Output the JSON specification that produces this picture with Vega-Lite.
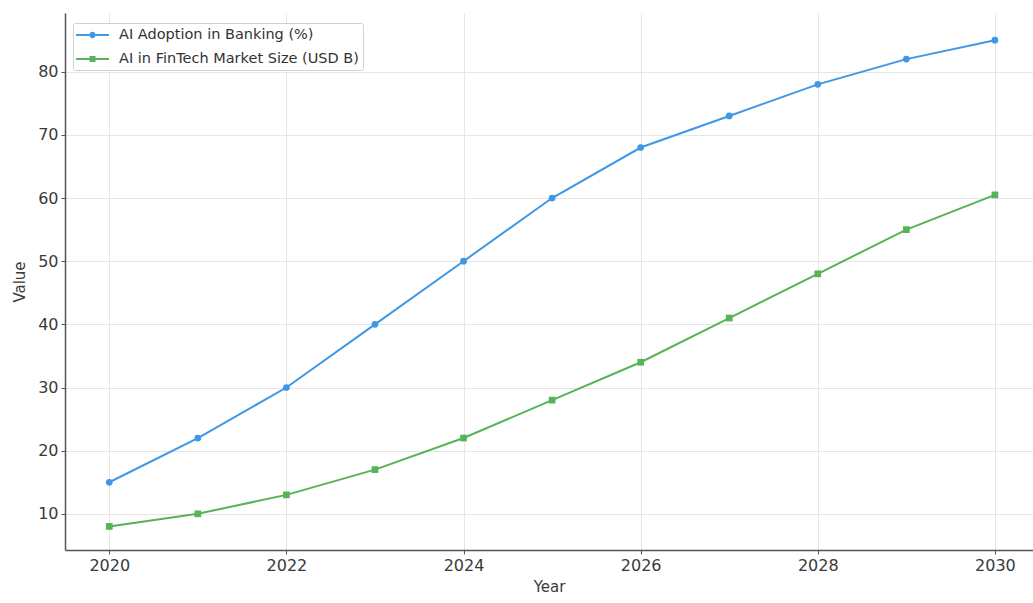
{
  "$schema": "https://vega.github.io/schema/vega-lite/v6.json",
  "width": 968,
  "height": 537,
  "autosize": {"type": "none"},
  "padding": {"left": 65, "top": 13, "right": 0, "bottom": 53},
  "background": "white",
  "config": {
    "view": {"stroke": null},
    "font": "DejaVu Sans",
    "axis": {
      "labelFont": "DejaVu Sans",
      "titleFont": "DejaVu Sans",
      "labelFontSize": 16,
      "titleFontSize": 15,
      "titleFontWeight": "normal",
      "labelColor": "#3a3a3a",
      "titleColor": "#3a3a3a",
      "domainColor": "#555555",
      "domainWidth": 1.5,
      "tickColor": "#555555",
      "tickSize": 4,
      "gridColor": "#e6e6e6",
      "gridWidth": 1
    }
  },
  "data": {
    "values": [
      {"Year": 2020, "Series": "AI Adoption in Banking (%)", "Value": 15},
      {"Year": 2021, "Series": "AI Adoption in Banking (%)", "Value": 22},
      {"Year": 2022, "Series": "AI Adoption in Banking (%)", "Value": 30},
      {"Year": 2023, "Series": "AI Adoption in Banking (%)", "Value": 40},
      {"Year": 2024, "Series": "AI Adoption in Banking (%)", "Value": 50},
      {"Year": 2025, "Series": "AI Adoption in Banking (%)", "Value": 60},
      {"Year": 2026, "Series": "AI Adoption in Banking (%)", "Value": 68},
      {"Year": 2027, "Series": "AI Adoption in Banking (%)", "Value": 73},
      {"Year": 2028, "Series": "AI Adoption in Banking (%)", "Value": 78},
      {"Year": 2029, "Series": "AI Adoption in Banking (%)", "Value": 82},
      {"Year": 2030, "Series": "AI Adoption in Banking (%)", "Value": 85},
      {"Year": 2020, "Series": "AI in FinTech Market Size (USD B)", "Value": 8},
      {"Year": 2021, "Series": "AI in FinTech Market Size (USD B)", "Value": 10},
      {"Year": 2022, "Series": "AI in FinTech Market Size (USD B)", "Value": 13},
      {"Year": 2023, "Series": "AI in FinTech Market Size (USD B)", "Value": 17},
      {"Year": 2024, "Series": "AI in FinTech Market Size (USD B)", "Value": 22},
      {"Year": 2025, "Series": "AI in FinTech Market Size (USD B)", "Value": 28},
      {"Year": 2026, "Series": "AI in FinTech Market Size (USD B)", "Value": 34},
      {"Year": 2027, "Series": "AI in FinTech Market Size (USD B)", "Value": 41},
      {"Year": 2028, "Series": "AI in FinTech Market Size (USD B)", "Value": 48},
      {"Year": 2029, "Series": "AI in FinTech Market Size (USD B)", "Value": 55},
      {"Year": 2030, "Series": "AI in FinTech Market Size (USD B)", "Value": 60.5}
    ]
  },
  "encoding": {
    "x": {
      "field": "Year",
      "type": "quantitative",
      "scale": {"domain": [2019.5, 2030.43], "nice": false, "zero": false},
      "axis": {"title": "Year", "values": [2020, 2022, 2024, 2026, 2028, 2030], "format": "d", "labelPadding": 3, "titlePadding": 6}
    },
    "y": {
      "field": "Value",
      "type": "quantitative",
      "scale": {"domain": [4.27, 89.3], "nice": false, "zero": false},
      "axis": {"title": "Value", "values": [10, 20, 30, 40, 50, 60, 70, 80], "labelPadding": 3, "titlePadding": 10}
    },
    "color": {
      "field": "Series",
      "type": "nominal",
      "scale": {"domain": ["AI Adoption in Banking (%)", "AI in FinTech Market Size (USD B)"], "range": ["#3f97e6", "#56b356"]},
      "legend": {
        "title": null,
        "orient": "none",
        "legendX": 8,
        "legendY": 10,
        "padding": 4,
        "fillColor": "white",
        "strokeColor": "#d0d0d0",
        "cornerRadius": 2,
        "labelFont": "DejaVu Sans",
        "labelFontSize": 14.5,
        "labelColor": "#333333",
        "labelLimit": 500,
        "symbolSize": 256,
        "labelOffset": 26,
        "rowPadding": 9,
        "encode": {
          "symbols": {
            "update": {
              "shape": {"signal": "datum.value === 'AI Adoption in Banking (%)' ? 'M-1.12,-0.125H0.54V0.125H-1.12Z M1.34,-0.125H3V0.125H1.34Z M1.34,0A0.4,0.4 0 1,1 0.54,0A0.4,0.4 0 1,1 1.34,0Z' : 'M-1.12,-0.125H0.57V0.125H-1.12Z M1.31,-0.125H3V0.125H1.31Z M0.57,-0.37H1.31V0.37H0.57Z'"},
              "fill": {"scale": "color", "field": "value"},
              "stroke": {"value": "transparent"},
              "strokeWidth": {"value": 0},
              "opacity": {"value": 1}
            }
          }
        }
      }
    }
  },
  "layer": [
    {
      "mark": {"type": "line", "strokeWidth": 2, "clip": true}
    },
    {
      "mark": {"type": "point", "filled": true, "opacity": 1, "size": 45, "clip": true},
      "encoding": {
        "shape": {
          "field": "Series",
          "type": "nominal",
          "scale": {"range": ["circle", "square"]},
          "legend": null
        }
      }
    }
  ]
}
